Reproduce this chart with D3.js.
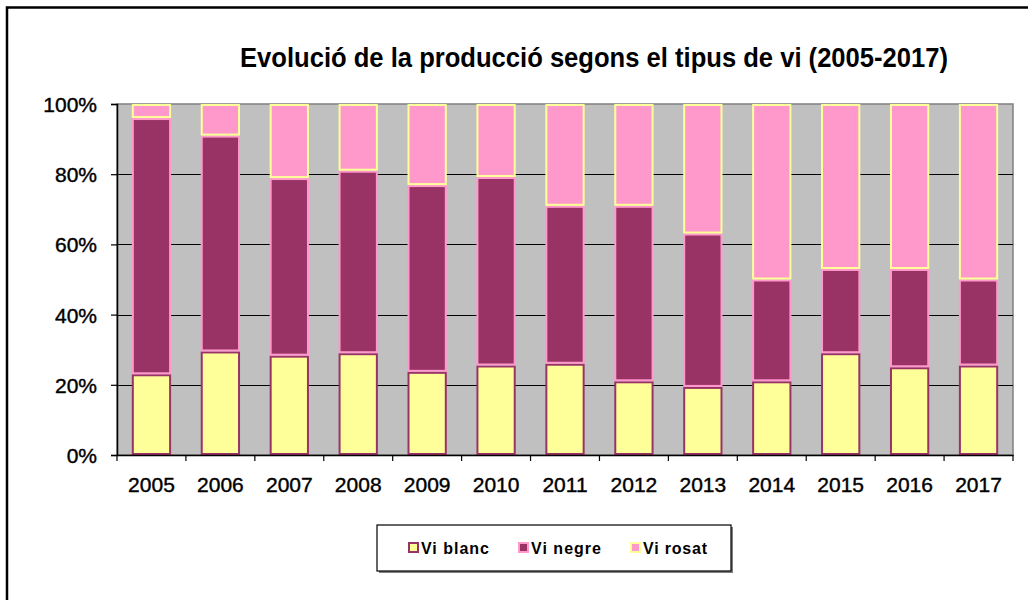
<!DOCTYPE html>
<html>
<head>
<meta charset="utf-8">
<script src="https://cdn.jsdelivr.net/npm/d3@7/dist/d3.min.js"></script>
<style>
  body { margin: 0; background: #fff; }
  svg { display: block; }
  text { font-family: "Liberation Sans", Arial, sans-serif; fill: #000; }
</style>
</head>
<body>
<svg id="chart" width="1028" height="600"></svg>
<script>
// data, in % of total production
const years = ["2005","2006","2007","2008","2009","2010","2011","2012","2013","2014","2015","2016","2017"];
const viBlanc = [23, 29.5, 28.3, 29, 23.7, 25.5, 26, 21, 19.4, 21, 29, 25, 25.5];
const viNegre = [73, 61.5, 50.6, 52, 53.2, 53.7, 45, 50, 43.7, 29, 24, 28, 24.5];
const viRosat = [4, 9, 21.1, 19, 23.1, 20.8, 29, 29, 36.9, 50, 47, 47, 50];
const seriesNames = ["Vi blanc", "Vi negre", "Vi rosat"];
const yTicks = [0, 0.2, 0.4, 0.6, 0.8, 1];

const fills = ["#FFFF99", "#993366", "#FF99CC"];
const strokes = ["#993366", "#FF99CC", "#FFFF99"];

const svg = d3.select("#chart");

// outer frame (only left and top visible)
svg.append("path")
  .attr("d", "M7,600 V7.5 H1028")
  .attr("fill", "none").attr("stroke", "#000").attr("stroke-width", 2.5);

const plot = { left: 117, right: 1013, top: 104, bottom: 455 };

const x = d3.scaleBand().domain(years).range([plot.left, plot.right]).paddingInner(0.43).paddingOuter(0.215);
const y = d3.scaleLinear().domain([0, 1]).range([plot.bottom, plot.top]);

// plot background
svg.append("rect")
  .attr("x", plot.left).attr("y", plot.top)
  .attr("width", plot.right - plot.left).attr("height", plot.bottom - plot.top)
  .attr("fill", "#C0C0C0").attr("stroke", "#808080").attr("stroke-width", 1.5);

// gridlines
svg.append("g").selectAll("line")
  .data(yTicks.filter(d => d > 0 && d < 1))
  .join("line")
  .attr("x1", plot.left).attr("x2", plot.right)
  .attr("y1", d => Math.round(y(d)) + 0.5).attr("y2", d => Math.round(y(d)) + 0.5)
  .attr("stroke", "#000").attr("stroke-width", 1.2);

// stack
const rows = years.map((yr, i) => {
  const tot = viBlanc[i] + viNegre[i] + viRosat[i];
  return { year: yr, "Vi blanc": viBlanc[i] / tot, "Vi negre": viNegre[i] / tot, "Vi rosat": viRosat[i] / tot };
});
const stacked = d3.stack().keys(seriesNames)(rows);

svg.append("g").selectAll("g")
  .data(stacked)
  .join("g")
  .attr("fill", (d, i) => fills[i])
  .attr("stroke", (d, i) => strokes[i])
  .attr("stroke-width", 2)
  .selectAll("rect")
  .data(d => d)
  .join("rect")
  .attr("x", d => x(d.data.year) + 1)
  .attr("width", x.bandwidth() - 2)
  .attr("y", d => y(d[1]) + 1)
  .attr("height", d => Math.max(0, y(d[0]) - y(d[1]) - 2));

// y axis
const yAxis = svg.append("g")
  .attr("transform", `translate(${plot.left},0)`)
  .call(d3.axisLeft(y).tickValues(yTicks).tickFormat(d3.format(".0%")).tickSize(6).tickPadding(14));
yAxis.select(".domain").attr("stroke", "#000").attr("stroke-width", 1.5);
yAxis.selectAll(".tick line").attr("stroke", "#000").attr("stroke-width", 1.2);
yAxis.selectAll("text").attr("font-size", 21).attr("dy", "0.36em")
  .attr("font-family", "'Liberation Sans', Arial, sans-serif")
  .attr("stroke", "#000").attr("stroke-width", 0.4);

// x axis
const xAxis = svg.append("g")
  .attr("transform", `translate(0,${plot.bottom})`)
  .call(d3.axisBottom(x).tickSize(0).tickPadding(22));
xAxis.select(".domain").attr("stroke", "#000").attr("stroke-width", 1.5);
xAxis.selectAll("text").attr("font-size", 21).attr("dy", "0.71em")
  .attr("font-family", "'Liberation Sans', Arial, sans-serif")
  .attr("stroke", "#000").attr("stroke-width", 0.4);

// category separator ticks
const step = x.step();
svg.append("g").selectAll("line")
  .data(d3.range(years.length + 1))
  .join("line")
  .attr("x1", i => plot.left + i * step).attr("x2", i => plot.left + i * step)
  .attr("y1", plot.bottom).attr("y2", plot.bottom + 6)
  .attr("stroke", "#000").attr("stroke-width", 1.2);

// title
svg.append("text")
  .attr("x", 240).attr("y", 67)
  .attr("font-size", 27).attr("font-weight", "bold")
  .attr("textLength", 708).attr("lengthAdjust", "spacingAndGlyphs")
  .text("Evolució de la producció segons el tipus de vi (2005-2017)");

// legend
const lg = svg.append("g");
lg.append("rect").attr("x", 379).attr("y", 527).attr("width", 354).attr("height", 46).attr("fill", "#808080");
lg.append("rect").attr("x", 377).attr("y", 525).attr("width", 354).attr("height", 46)
  .attr("fill", "#fff").attr("stroke", "#000").attr("stroke-width", 1.2);
const legX = [409, 519, 631];
const legW = [68, 70, 64];
const items = lg.selectAll("g.item").data(seriesNames).join("g").attr("class", "item")
  .attr("transform", (d, i) => `translate(${legX[i]},548)`);
items.append("rect").attr("x", 0).attr("y", -5).attr("width", 9).attr("height", 9)
  .attr("fill", (d, i) => fills[i]).attr("stroke", (d, i) => strokes[i]).attr("stroke-width", 2);
items.append("text").attr("x", 12).attr("y", 6).attr("font-size", 16).attr("font-weight", "bold")
  .attr("textLength", (d, i) => legW[i]).attr("lengthAdjust", "spacing")
  .text(d => d);
</script>
</body>
</html>
